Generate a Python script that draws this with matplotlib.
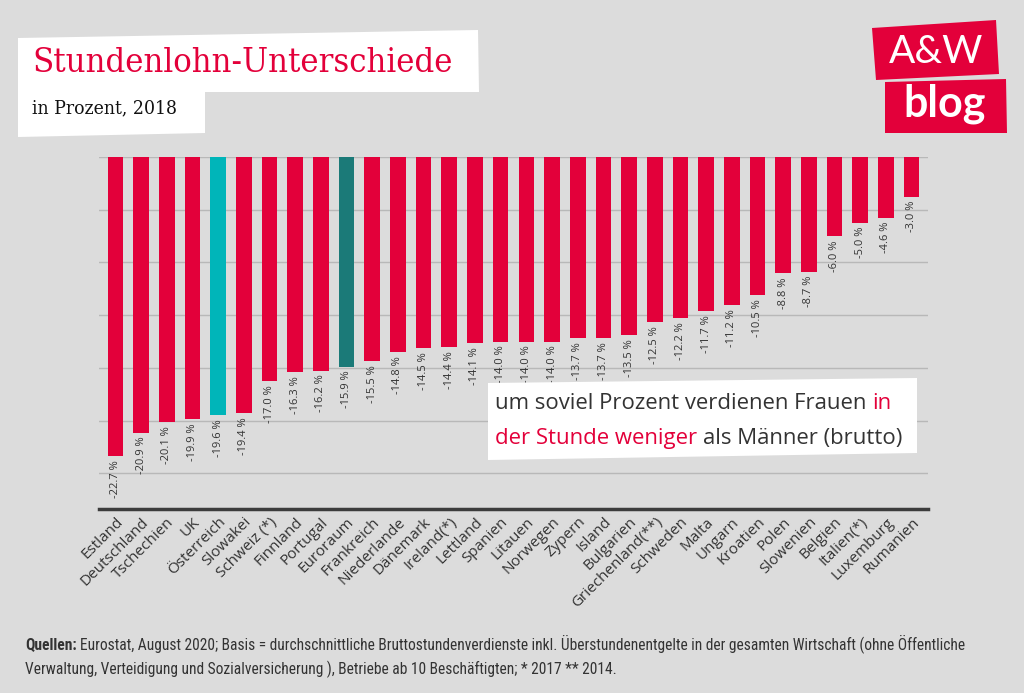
import matplotlib
matplotlib.use("Agg")
import matplotlib.pyplot as plt
from matplotlib.patches import Polygon
from matplotlib import font_manager

# ---------------- data ----------------
countries = ["Estland", "Deutschland", "Tschechien", "UK", "Österreich", "Slowakei",
             "Schweiz (*)", "Finnland", "Portugal", "Euroraum", "Frankreich",
             "Niederlande", "Dänemark", "Ireland(*)", "Lettland", "Spanien", "Litauen",
             "Norwegen", "Zypern", "Island", "Bulgarien", "Griechenland(**)", "Schweden",
             "Malta", "Ungarn", "Kroatien", "Polen", "Slowenien", "Belgien", "Italien(*)",
             "Luxemburg", "Rumanien"]
values = [-22.7, -20.9, -20.1, -19.9, -19.6, -19.4, -17.0, -16.3, -16.2, -15.9, -15.5,
          -14.8, -14.5, -14.4, -14.1, -14.0, -14.0, -14.0, -13.7, -13.7, -13.5, -12.5,
          -12.2, -11.7, -11.2, -10.5, -8.8, -8.7, -6.0, -5.0, -4.6, -3.0]
grid_values = [0, -4, -8, -12, -16, -20, -24]

title = "Stundenlohn-Unterschiede"
subtitle = "in Prozent, 2018"
note_line1 = [("um soviel Prozent verdienen Frauen", "dark"), ("in", "red")]
note_line2 = [("der Stunde weniger", "red"), ("als Männer (brutto)", "dark")]
source_bold = "Quellen:"
source_line1 = ("Eurostat, August 2020; Basis = durchschnittliche Bruttostundenverdienste inkl. "
                "Überstundenentgelte in der gesamten Wirtschaft (ohne Öffentliche")
source_line2 = ("Verwaltung, Verteidigung und Sozialversicherung ), Betriebe ab 10 "
                "Beschäftigten; * 2017 ** 2014.")

# ---------------- style ----------------
BG = "#dcdcdc"
RED = "#e3003a"
DARK = "#333333"
HIGHLIGHT = {"Österreich": "#00b5b9", "Euroraum": "#1b7a78"}
W, H = 1024, 693

fonts = font_manager.fontManager.ttflist
names = {f.name for f in fonts}
def pick(*cands):
    for c in cands:
        if c in names:
            return c
    return "DejaVu Sans"

SANS = pick("Open Sans", "Noto Sans", "DejaVu Sans")
COND = pick("Roboto Condensed", "Open Sans Condensed", "Liberation Sans Narrow", "Noto Sans", "DejaVu Sans")
SERIF = pick("DejaVu Serif", "Liberation Serif")
SERIF_STRETCH = "normal"
for f in fonts:
    if f.name == SERIF and str(f.stretch) in ("condensed", "semi-condensed"):
        SERIF_STRETCH = "condensed"
LOGO = pick("Lato", "Open Sans", "DejaVu Sans")

fig = plt.figure(figsize=(W / 100, H / 100), dpi=100, facecolor=BG)
renderer = fig.canvas.get_renderer()

def fx(x):
    return x / W

def fy(y):
    return 1 - y / H

def poly(pts, color, z=0):
    fig.patches.append(Polygon([(fx(a), fy(b)) for a, b in pts], closed=True,
                               transform=fig.transFigure, facecolor=color,
                               edgecolor="none", zorder=z))

def fit(x, y, s, width, size0=12, **kw):
    t = fig.text(fx(x), fy(y), s, fontsize=size0, va="baseline", **kw)
    w = t.get_window_extent(renderer).width
    t.set_fontsize(size0 * width / w)
    return t

def space_width(fs, **kw):
    a = fig.text(0, 0, "a a", fontsize=fs, **kw)
    b = fig.text(0, 0, "aa", fontsize=fs, **kw)
    d = a.get_window_extent(renderer).width - b.get_window_extent(renderer).width
    a.remove(); b.remove()
    return d

def pieces(x, y, parts, fs, family, weights=None):
    cur = x
    sp = space_width(fs, family=family)
    for i, (s, c) in enumerate(parts):
        wgt = weights[i] if weights else "normal"
        col = RED if c == "red" else DARK
        t = fig.text(fx(cur), fy(y), s, fontsize=fs, color=col, family=family,
                     fontweight=wgt, va="baseline", zorder=5)
        cur = t.get_window_extent(renderer).x1 + sp

# ---------------- axes / bars ----------------
ax = fig.add_axes([fx(99), fy(509), (928 - 99) / W, (509 - 157) / H])
ax.set_facecolor("none")
xpos = list(range(len(countries)))
colors = [HIGHLIGHT.get(c, RED) for c in countries]
ax.bar(xpos, values, width=0.61, color=colors, zorder=3)
ax.set_xlim(-0.64, len(countries) - 1 + 0.64)
ax.set_ylim(-26.7, 0)
ax.set_yticks(grid_values)
ax.yaxis.grid(True, color="#b8b8b8", lw=1.0, zorder=1)
ax.tick_params(axis="y", length=0, labelleft=False)
for s in ["left", "right", "top"]:
    ax.spines[s].set_visible(False)
ax.spines["bottom"].set_color("#3c3c3c")
ax.spines["bottom"].set_linewidth(2.5)
ax.set_xticks(xpos)
ax.set_xticklabels(countries, rotation=45, ha="right", va="top", rotation_mode="anchor",
                   fontsize=11, color=DARK, family=SANS)
ax.tick_params(axis="x", length=0, pad=4)

for i, v in enumerate(values):
    ax.annotate(f"{v:.1f} %", xy=(i, v), xytext=(0, -3), textcoords="offset points",
                rotation=90, ha="center", va="top", fontsize=8, color=DARK, family=SANS)

# ---------------- title boxes ----------------
poly([(18, 38), (478, 30), (479, 92), (18, 92)], "white")
poly([(18, 90), (205, 90), (205, 133), (18, 137)], "white")
fit(32, 72, title, 423, color=RED, family=SERIF, fontstretch=SERIF_STRETCH)
fit(32, 113, subtitle, 145, color="#111111", family=SERIF, fontstretch=SERIF_STRETCH)

# ---------------- logo ----------------
poly([(872, 28), (996, 20), (999, 74), (876, 80)], RED)
poly([(885, 82), (1006, 79), (1007, 133), (885, 133)], RED)
fig.text(fx(936), fy(52), "A&W", color="white", fontsize=28, family=LOGO,
         fontweight="normal", ha="center", va="center")
fig.text(fx(945), fy(104), "blog", color="white", fontsize=31, family=LOGO,
         fontweight="bold", ha="center", va="center")

# ---------------- annotation box ----------------
poly([(488, 383), (917, 378), (917, 453), (488, 460)], "white", z=4)
probe = fig.text(0, 0, note_line2[0][0] + " " + note_line2[1][0], fontsize=14, family=SANS)
fs_note = 14 * 408 / probe.get_window_extent(renderer).width
probe.remove()
pieces(495, 409, note_line1, fs_note, SANS)
pieces(495, 444, note_line2, fs_note, SANS)

# ---------------- source ----------------
probe = fig.text(0, 0, source_line2, fontsize=10, family=COND)
fs_src = 10 * 592 / probe.get_window_extent(renderer).width
probe.remove()
pieces(25, 649, [(source_bold, "dark"), (source_line1, "dark")], fs_src, COND,
       weights=["bold", "normal"])
fig.text(fx(25), fy(674), source_line2, fontsize=fs_src, color=DARK, family=COND,
         va="baseline")

fig.savefig("out.png", dpi=100, facecolor=BG)
